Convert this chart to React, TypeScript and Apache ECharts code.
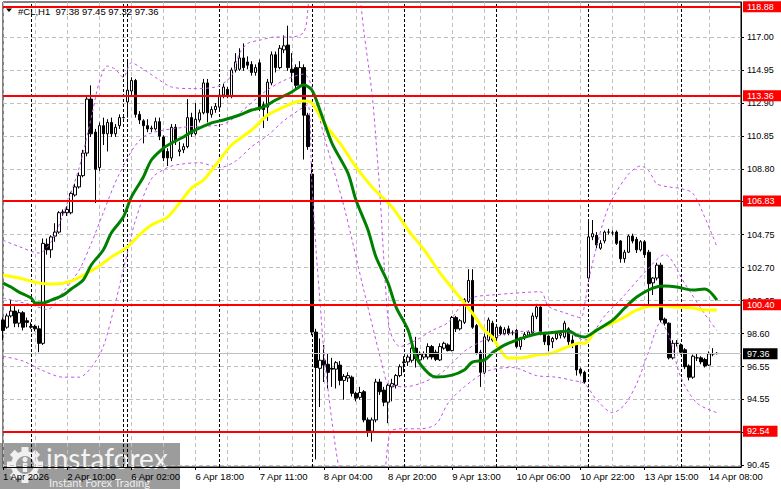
import React, { useEffect, useRef } from 'react';
import * as echarts from 'echarts';

// ---- time axis (H1 bars, trading sessions) ----
const sessions = [
  { day: '1 Apr', from: 17, to: 23 },
  { day: '2 Apr', from: 1, to: 23 },
  { day: '3 Apr', from: 1, to: 1 },
  { day: '6 Apr', from: 1, to: 23 },
  { day: '7 Apr', from: 1, to: 23 },
  { day: '8 Apr', from: 1, to: 23 },
  { day: '9 Apr', from: 1, to: 23 },
  { day: '10 Apr', from: 1, to: 23 },
  { day: '13 Apr', from: 1, to: 23 },
  { day: '14 Apr', from: 1, to: 16 },
];
const firstLabel = '1 Apr 2026';

// ---- price axis ----
const yTicks = [90.45, 92.5, 94.55, 96.55, 98.6, 100.65, 102.7, 104.75, 106.8, 108.8, 110.85, 112.9, 114.95, 117.0];
// labels fully hidden behind level tags in the picture are left out
const yLabelTicks = [90.45, 94.55, 96.55, 98.6, 100.65, 102.7, 104.75, 108.8, 110.85, 112.9, 114.95, 117.0];
const Y_MIN = 90.33;
const Y_MAX = 119.17;

// ---- levels ----
const levels = [118.88, 113.36, 106.83, 100.4, 92.54];
const lastPrice = 97.36;
const titleText = '#CL,H1  97.38 97.45 97.32 97.36';

// ---- candles ----
const opens = [
  99.45, 99.0, 99.7, 100.0, 99.25, 99.9, 99.4, 99.05, 99.05, 98.9,
  98.0, 104.15, 103.8, 104.65, 104.9, 106.1, 106.1, 106.1, 107.2, 107.7,
  108.4, 109.8, 113.15, 111.1, 108.9, 111.5, 111.0, 111.7, 111.0, 111.5,
  112.0, 112.97, 113.65, 114.3, 112.2, 111.8, 111.5, 111.3, 111.3, 111.75,
  110.8, 109.9, 109.5, 111.4, 109.9, 110.0, 110.2, 112.0, 111.0, 111.85,
  112.3, 114.15, 112.2, 112.5, 112.65, 113.4, 113.75, 113.3, 114.95, 115.0,
  115.7, 115.45, 115.3, 114.8, 115.4, 112.8, 112.65, 114.15, 115.9, 115.1,
  116.2, 116.5, 115.0, 115.1, 114.0, 115.1, 112.15, 108.5, 98.7, 96.45,
  96.95, 96.7, 96.45, 96.4, 96.65, 95.7, 95.85, 95.9, 94.9, 94.65,
  95.0, 93.25, 92.55, 93.25, 95.6, 95.1, 94.35, 95.3, 95.4, 96.0,
  96.8, 96.85, 96.95, 97.7, 96.97, 97.15, 97.15, 97.8, 97.45, 96.97,
  97.7, 97.9, 97.55, 99.6, 98.9, 99.3, 100.6, 101.9, 99.1, 97.45,
  96.2, 98.2, 99.25, 98.35, 99.0, 98.6, 98.9, 98.65, 98.8, 97.8,
  98.35, 98.5, 98.65, 99.65, 100.25, 98.65, 98.45, 98.1, 98.3, 98.5,
  98.4, 98.9, 98.2, 97.9, 96.4, 96.2, 102.05, 104.6, 104.7, 103.9,
  104.35, 104.9, 104.85, 104.9, 104.35, 103.25, 103.65, 104.65, 104.45, 103.8,
  104.3, 103.65, 101.75, 102.05, 102.85, 99.5, 99.25, 97.1, 98.0, 97.9,
  97.6, 96.6, 95.9, 97.1, 97.1, 97.0, 96.65, 97.35, 97.38,
];
const closes = [
  98.8, 99.7, 100.0, 99.25, 99.9, 99.0, 99.3, 99.0, 98.9, 98.0,
  104.2, 103.8, 104.6, 104.9, 106.1, 106.15, 106.3, 107.3, 107.7, 108.4,
  109.8, 113.15, 111.0, 108.8, 111.5, 111.0, 111.7, 111.0, 111.4, 112.0,
  112.0, 113.7, 114.3, 112.2, 111.85, 111.5, 111.3, 111.35, 111.75, 110.85,
  109.5, 109.5, 111.4, 110.5, 110.0, 110.2, 112.0, 111.0, 111.9, 112.3,
  114.15, 112.3, 112.5, 112.7, 113.4, 113.9, 113.4, 114.95, 115.45, 115.7,
  115.1, 115.25, 114.8, 115.1, 112.65, 112.5, 114.2, 115.9, 115.1, 116.3,
  116.45, 115.1, 114.8, 114.0, 115.1, 112.15, 110.2, 98.7, 96.5, 96.95,
  96.65, 96.2, 96.4, 96.8, 95.7, 95.95, 96.0, 94.9, 94.6, 94.95,
  93.25, 92.55, 93.25, 95.6, 95.0, 94.35, 95.4, 95.5, 96.0, 96.55,
  96.85, 97.15, 97.7, 97.05, 97.3, 97.35, 97.8, 97.15, 97.0, 97.8,
  98.0, 97.55, 99.6, 98.9, 99.4, 100.7, 101.9, 99.0, 97.4, 96.2,
  98.4, 99.45, 98.2, 99.0, 98.6, 98.85, 98.6, 98.65, 97.8, 98.35,
  98.55, 98.7, 99.7, 100.25, 98.65, 98.1, 97.9, 98.3, 98.6, 98.6,
  99.25, 98.1, 97.9, 96.35, 96.15, 95.6, 104.6, 104.8, 104.1, 104.2,
  104.9, 104.9, 104.85, 104.2, 103.25, 103.65, 104.65, 104.35, 103.8, 104.3,
  103.5, 101.7, 102.05, 102.85, 99.45, 99.25, 97.1, 98.0, 98.0, 97.45,
  96.55, 95.9, 97.2, 97.1, 96.85, 96.6, 97.35, 97.35, 97.36,
];
const lows = [
  98.2, 98.9, 99.6, 99.0, 99.0, 98.8, 99.0, 98.9, 98.75, 97.45,
  97.9, 103.5, 103.3, 104.3, 104.8, 105.9, 105.9, 106.0, 107.1, 107.6,
  108.3, 109.6, 110.8, 106.7, 108.7, 110.3, 109.9, 110.8, 110.8, 111.3,
  111.95, 112.0, 113.4, 112.0, 111.6, 110.4, 111.1, 111.1, 111.2, 110.6,
  109.3, 109.0, 109.3, 110.3, 109.6, 109.8, 110.1, 110.8, 110.9, 111.7,
  112.2, 111.7, 112.0, 112.3, 112.5, 113.2, 113.2, 113.2, 114.8, 114.9,
  114.9, 115.0, 114.6, 114.6, 112.4, 111.35, 111.8, 114.0, 114.8, 115.0,
  116.0, 114.9, 114.2, 113.8, 113.9, 109.4, 110.0, 98.5, 90.8, 94.05,
  95.6, 95.2, 95.3, 95.2, 95.4, 94.5, 95.6, 94.7, 94.4, 94.5,
  93.1, 92.2, 91.9, 93.1, 94.8, 94.1, 93.05, 94.4, 95.2, 95.9,
  96.2, 96.6, 96.8, 96.5, 96.8, 97.0, 97.0, 97.0, 96.9, 96.9,
  97.6, 97.5, 97.5, 98.7, 98.8, 99.2, 100.5, 98.9, 97.3, 95.3,
  96.1, 98.1, 98.1, 98.2, 98.5, 98.5, 98.5, 98.5, 97.7, 97.6,
  98.2, 98.4, 98.5, 99.5, 98.5, 97.9, 97.5, 97.7, 98.2, 98.3,
  98.3, 97.8, 97.7, 96.0, 96.0, 95.5, 101.9, 104.4, 103.9, 103.8,
  104.2, 104.75, 104.7, 104.1, 103.0, 103.0, 103.6, 104.2, 103.6, 103.7,
  103.3, 100.4, 101.0, 101.9, 99.3, 99.1, 97.0, 97.0, 97.8, 97.3,
  96.4, 95.7, 95.8, 96.9, 96.7, 96.5, 96.6, 97.2, 97.32,
];
const highs = [
  99.6, 99.85, 100.7, 100.3, 100.1, 100.0, 99.6, 99.3, 99.15, 99.1,
  104.5, 104.5, 104.7, 105.45, 106.2, 106.3, 106.5, 107.4, 107.9, 108.6,
  110.0, 113.4, 114.0, 111.3, 111.7, 112.0, 111.9, 112.0, 111.6, 112.2,
  112.05, 115.45, 114.5, 114.4, 112.4, 111.9, 111.9, 111.5, 112.0, 112.0,
  110.9, 110.1, 111.6, 111.6, 110.5, 110.4, 113.15, 112.3, 112.9, 112.5,
  114.4, 114.4, 112.7, 112.9, 113.6, 114.1, 113.9, 115.1, 116.0, 116.3,
  116.6, 115.8, 115.5, 115.3, 115.6, 113.0, 114.4, 116.1, 116.1, 116.5,
  117.1, 117.7, 116.0, 115.3, 115.5, 115.3, 112.3, 109.2, 98.9, 98.3,
  97.9, 97.4, 97.1, 96.9, 96.9, 96.1, 96.2, 96.0, 95.0, 95.3,
  95.1, 93.4, 93.4, 95.8, 95.8, 95.3, 95.5, 95.8, 96.1, 96.7,
  97.2, 97.3, 97.9, 98.4, 97.5, 97.5, 98.0, 97.9, 97.6, 98.0,
  98.1, 98.0, 99.7, 99.7, 99.5, 100.8, 102.6, 102.6, 99.2, 97.6,
  98.6, 99.6, 99.4, 99.1, 99.1, 99.0, 99.1, 98.8, 98.9, 98.4,
  98.7, 98.8, 99.9, 100.45, 100.3, 98.7, 98.5, 98.4, 98.7, 98.8,
  99.4, 99.0, 98.5, 98.0, 96.5, 96.3, 105.65, 105.65, 104.9, 104.4,
  105.0, 105.1, 105.0, 105.0, 104.4, 103.8, 104.75, 104.8, 104.6, 104.4,
  104.4, 103.8, 102.1, 103.0, 103.0, 99.6, 99.3, 98.2, 98.2, 98.0,
  97.7, 96.7, 97.3, 97.4, 97.2, 97.1, 97.5, 97.7, 97.45,
];

// ---- moving averages, read as [bar index, price] ----
const greenMA = [
  [0, 101.74], [2, 101.49], [4, 101.18], [7, 100.81], [8, 100.5], [10, 100.5], [12, 100.68], [15, 100.99],
  [17, 101.37], [20, 101.93], [22, 102.86], [25, 103.79], [27, 104.84], [30, 105.83], [32, 107.07], [35, 108.32],
  [37, 109.37], [40, 110.11], [42, 110.42], [45, 110.8], [47, 111.11], [52, 111.67], [55, 111.85], [59, 112.16],
  [62, 112.47], [65, 112.66], [68, 113.09], [72, 113.59], [75, 114.02], [77, 113.71], [79, 112.47], [82, 110.42],
  [86, 108.56], [88, 106.89], [91, 105.03], [93, 103.35], [96, 101.74], [98, 100.25], [101, 98.82], [103, 97.15],
  [106, 96.16], [108, 95.91], [112, 96.03], [115, 96.34], [117, 96.84], [120, 96.96], [122, 97.4], [123, 97.58],
  [125, 97.89], [128, 98.2], [131, 98.45], [133, 98.58], [136, 98.64], [138, 98.7], [141, 98.76], [143, 98.51],
  [145, 98.39], [148, 98.82], [152, 99.44], [155, 100.19], [158, 100.87], [162, 101.43], [165, 101.55], [168, 101.49],
  [172, 101.31], [175, 101.37], [178, 100.68],
];
const yellowMA = [
  [0, 102.24], [4, 102.05], [9, 101.74], [13, 101.68], [17, 101.86], [21, 102.36], [24, 102.79], [27, 103.35],
  [31, 103.97], [34, 104.72], [37, 105.34], [41, 105.83], [44, 106.7], [47, 107.63], [50, 108.13], [54, 109.37],
  [57, 110.3], [62, 111.23], [66, 112.16], [70, 112.66], [73, 112.97], [75, 113.03], [77, 112.91], [80, 111.67],
  [84, 110.42], [88, 108.94], [92, 107.7], [97, 106.45], [101, 105.03], [105, 103.79], [109, 102.36], [113, 101.12],
  [117, 99.88], [120, 98.82], [122, 98.39], [124, 97.58], [126, 97.09], [129, 97.09], [133, 97.27], [137, 97.4],
  [140, 97.71], [144, 98.02], [145, 98.0], [148, 98.82], [152, 99.26], [155, 99.63], [158, 100.06], [162, 100.31],
  [165, 100.31], [168, 100.25], [172, 100.19], [175, 100.06], [178, 100.06],
];

// ---- Bollinger bands, read as [bar index, price] ----
const bbUpper = [
  [0, 104.4], [4, 104.0], [9, 103.6], [12, 104.3], [15, 106.0], [19, 108.9], [22, 112.0], [24, 114.2],
  [26, 115.2], [28, 115.0], [30, 114.5], [32, 115.4], [35, 115.0], [38, 114.5], [42, 113.9], [47, 113.8],
  [53, 113.9], [57, 114.6], [59, 116.0], [61, 116.6], [64, 116.8], [68, 117.0], [72, 117.0], [75, 117.3],
  [76, 118.7], [77, 121.5], [80, 123.7], [85, 124.3], [88, 121.5], [90, 117.3], [92, 113.5], [93, 110.6],
  [94, 107.2], [95, 103.0], [96, 99.5], [97, 98.4], [99, 97.8], [103, 98.2], [107, 98.8], [111, 99.3],
  [115, 100.6], [118, 100.9], [122, 101.0], [127, 101.1], [134, 101.2], [136, 100.3], [140, 99.9], [144, 99.6],
  [145, 100.4], [146, 101.9], [148, 104.0], [150, 105.8], [152, 107.0], [156, 108.5], [159, 109.0], [161, 108.7],
  [163, 107.9], [166, 107.7], [169, 107.6], [172, 107.3], [175, 105.8], [178, 104.0],
];
const bbMiddle = [
  [0, 100.8], [7, 100.4], [11, 100.1], [15, 101.2], [19, 102.55], [22, 104.2], [25, 106.1], [29, 108.5],
  [35, 110.8], [45, 111.4], [55, 111.6], [60, 112.5], [65, 113.55], [70, 114.3], [75, 114.7], [77, 113.9],
  [80, 110.9], [85, 106.5], [90, 101.25], [95, 96.2], [96, 95.5], [100, 95.3], [105, 95.6], [110, 96.3],
  [115, 97.5], [120, 98.2], [125, 98.55], [130, 98.75], [135, 98.7], [140, 98.7], [145, 98.2], [150, 99.7],
  [155, 101.0], [160, 102.4], [165, 103.5], [170, 101.7], [175, 99.8], [178, 98.8],
];
const bbLower = [
  [0, 97.2], [5, 96.9], [10, 96.3], [15, 95.9], [19, 95.9], [22, 96.5], [25, 97.8], [28, 100.5],
  [31, 103.6], [33, 105.6], [37, 108.2], [41, 108.9], [44, 109.1], [49, 109.2], [54, 108.9], [58, 109.3],
  [62, 110.2], [66, 110.9], [70, 111.8], [74, 112.5], [76, 112.8], [77, 108.0], [78, 104.0], [79, 100.7],
  [80, 97.5], [82, 93.2], [84, 90.0], [87, 87.5], [90, 85.5], [93, 87.5], [95, 89.5], [96, 91.8],
  [97, 92.6], [100, 92.7], [104, 92.7], [108, 93.0], [111, 94.3], [115, 95.3], [121, 96.3], [127, 96.5],
  [133, 96.0], [138, 95.9], [142, 95.7], [145, 95.5], [148, 94.5], [152, 93.7], [155, 94.2], [158, 95.5],
  [161, 97.5], [164, 99.3], [166, 98.5], [169, 95.9], [173, 94.3], [178, 93.7],
];

const FONT = '"Liberation Sans", Arial, sans-serif';
const PURPLE = '#c055e6';
const GRID_GRAY = '#c0c0c0';

function pad2(n: number) {
  return n < 10 ? '0' + n : '' + n;
}

function buildAxis() {
  const categories: string[] = [];
  const separators: number[] = [];
  sessions.forEach((s, si) => {
    if (si > 0) separators.push(categories.length);
    for (let h = s.from; h <= s.to; h++) categories.push(`${s.day} ${pad2(h)}:00`);
  });
  categories[0] = firstLabel;
  return { categories, separators };
}

function buildOption() {
  const { categories, separators } = buildAxis();
  const candleData = opens.map((o, i) => [o, closes[i], lows[i], highs[i]]);

  const bandSeries = (name: string, data: number[][]) => ({
    name,
    type: 'line',
    data,
    showSymbol: false,
    symbol: 'none',
    smooth: 0.3,
    clip: true,
    silent: true,
    z: 3,
    lineStyle: { color: PURPLE, width: 1, type: [3, 3] },
  });

  return {
    animation: false,
    backgroundColor: '#ffffff',
    grid: {
      left: 3,
      right: 40,
      top: 2,
      bottom: 22,
      show: true,
      borderColor: '#000000',
      borderWidth: 1,
      backgroundColor: 'transparent',
    },
    xAxis: {
      type: 'category',
      data: categories,
      boundaryGap: false,
      axisLine: { show: true, lineStyle: { color: '#000000', width: 1 } },
      axisTick: { show: true, interval: 15, length: 3, lineStyle: { color: '#000000' } },
      axisLabel: {
        interval: 15,
        align: 'left',
        color: '#000000',
        fontSize: 9.5,
        fontFamily: FONT,
        margin: 4,
      },
      splitLine: { show: true, interval: 7, lineStyle: { color: GRID_GRAY, width: 1, type: [4, 3] } },
    },
    yAxis: {
      type: 'value',
      position: 'right',
      min: Y_MIN,
      max: Y_MAX,
      axisLine: { show: true, lineStyle: { color: '#000000', width: 1 } },
      axisTick: { show: true, length: 3, customValues: yTicks, lineStyle: { color: '#000000' } },
      axisLabel: {
        customValues: yLabelTicks,
        formatter: (v: number) => v.toFixed(2),
        color: '#000000',
        fontSize: 9,
        fontFamily: FONT,
        margin: 6,
      },
      splitLine: { show: true, lineStyle: { color: GRID_GRAY, width: 1, type: [4, 3] } },
    },
    series: [
      {
        name: 'separators',
        type: 'line',
        data: [],
        silent: true,
        z: 1,
        markLine: {
          silent: true,
          symbol: 'none',
          z: 1,
          label: { show: false },
          emphasis: { disabled: true },
          lineStyle: { color: '#000000', width: 1, type: [3, 2] },
          data: separators.map((i) => ({ xAxis: i })),
        },
      },
      {
        name: '#CL,H1',
        type: 'candlestick',
        data: candleData,
        barWidth: 3,
        z: 2,
        silent: true,
        itemStyle: {
          color: '#ffffff',
          color0: '#000000',
          borderColor: '#000000',
          borderColor0: '#000000',
          borderWidth: 1,
        },
      },
      bandSeries('bbUpper', bbUpper),
      bandSeries('bbMiddle', bbMiddle),
      bandSeries('bbLower', bbLower),
      {
        name: 'yellowMA',
        type: 'line',
        data: yellowMA,
        showSymbol: false,
        symbol: 'none',
        smooth: 0.3,
        silent: true,
        z: 4,
        lineStyle: { color: '#ffff00', width: 3 },
      },
      {
        name: 'greenMA',
        type: 'line',
        data: greenMA,
        showSymbol: false,
        symbol: 'none',
        smooth: 0.3,
        silent: true,
        z: 5,
        lineStyle: { color: '#008000', width: 3 },
      },
      {
        name: 'levels',
        type: 'line',
        data: [],
        silent: true,
        z: 6,
        markLine: {
          silent: true,
          symbol: 'none',
          z: 10,
          emphasis: { disabled: true },
          lineStyle: { color: '#ff0000', width: 2, type: 'solid' },
          label: {
            show: true,
            position: 'end',
            distance: 2,
            formatter: (p: any) => Number(p.value).toFixed(2),
            color: '#ffffff',
            backgroundColor: '#ff0000',
            fontSize: 9,
            fontFamily: FONT,
            padding: [1, 8, 1, 4],
          },
          data: [
            {
              yAxis: lastPrice,
              lineStyle: { color: GRID_GRAY, width: 1, type: 'solid' },
              label: { backgroundColor: '#000000', color: '#ffffff' },
            },
            ...levels.map((v) => ({ yAxis: v })),
          ],
        },
      },
    ],
    graphic: [
      {
        type: 'polygon',
        z: 100,
        shape: { points: [[6, 8.5], [12, 8.5], [9, 12]] },
        style: { fill: '#000000' },
      },
      {
        type: 'text',
        z: 100,
        x: 18,
        y: 11,
        style: {
          text: titleText,
          fontSize: 9.5,
          fontFamily: FONT,
          fill: '#000000',
          verticalAlign: 'middle',
        },
      },
      {
        type: 'group',
        z: 100,
        children: [
          {
            type: 'rect',
            shape: { x: 0, y: 443, width: 180, height: 46 },
            style: { fill: 'rgba(95,95,95,0.62)' },
          },
          ...[0, 1, 2, 3, 4, 5, 6, 7].map((k) => ({
            type: 'rect',
            x: 25,
            y: 465,
            rotation: (k * Math.PI) / 4,
            shape: { x: -3.5, y: -18, width: 7, height: 6 },
            style: { fill: '#f0f0f0' },
          })),
          {
            type: 'ring',
            shape: { cx: 25, cy: 465, r: 14, r0: 9 },
            style: { fill: '#f0f0f0' },
          },
          {
            type: 'circle',
            shape: { cx: 25, cy: 459.5, r: 2.6 },
            style: { fill: '#f0f0f0' },
          },
          {
            type: 'rect',
            shape: { x: 22.8, y: 463, width: 4.4, height: 9 },
            style: { fill: '#f0f0f0' },
          },
          {
            type: 'text',
            x: 46,
            y: 458,
            style: {
              text: 'instaforex',
              fontSize: 28,
              fontFamily: 'Lato, "Open Sans", sans-serif',
              fill: '#f4f4f4',
              verticalAlign: 'middle',
            },
          },
          {
            type: 'text',
            x: 49,
            y: 482,
            style: {
              text: 'Instant Forex Trading',
              fontSize: 11,
              fontFamily: 'Lato, "Open Sans", sans-serif',
              fill: 'rgba(255,255,255,0.85)',
              verticalAlign: 'middle',
            },
          },
        ],
      },
    ],
  };
}

export default function App() {
  const ref = useRef<HTMLDivElement>(null);
  useEffect(() => {
    document.body.style.margin = '0';
    const chart = echarts.init(ref.current as HTMLDivElement, undefined, { renderer: 'svg' });
    chart.setOption(buildOption() as any);
    return () => {
      chart.dispose();
    };
  }, []);
  return <div ref={ref} style={{ width: 781, height: 489 }} />;
}
